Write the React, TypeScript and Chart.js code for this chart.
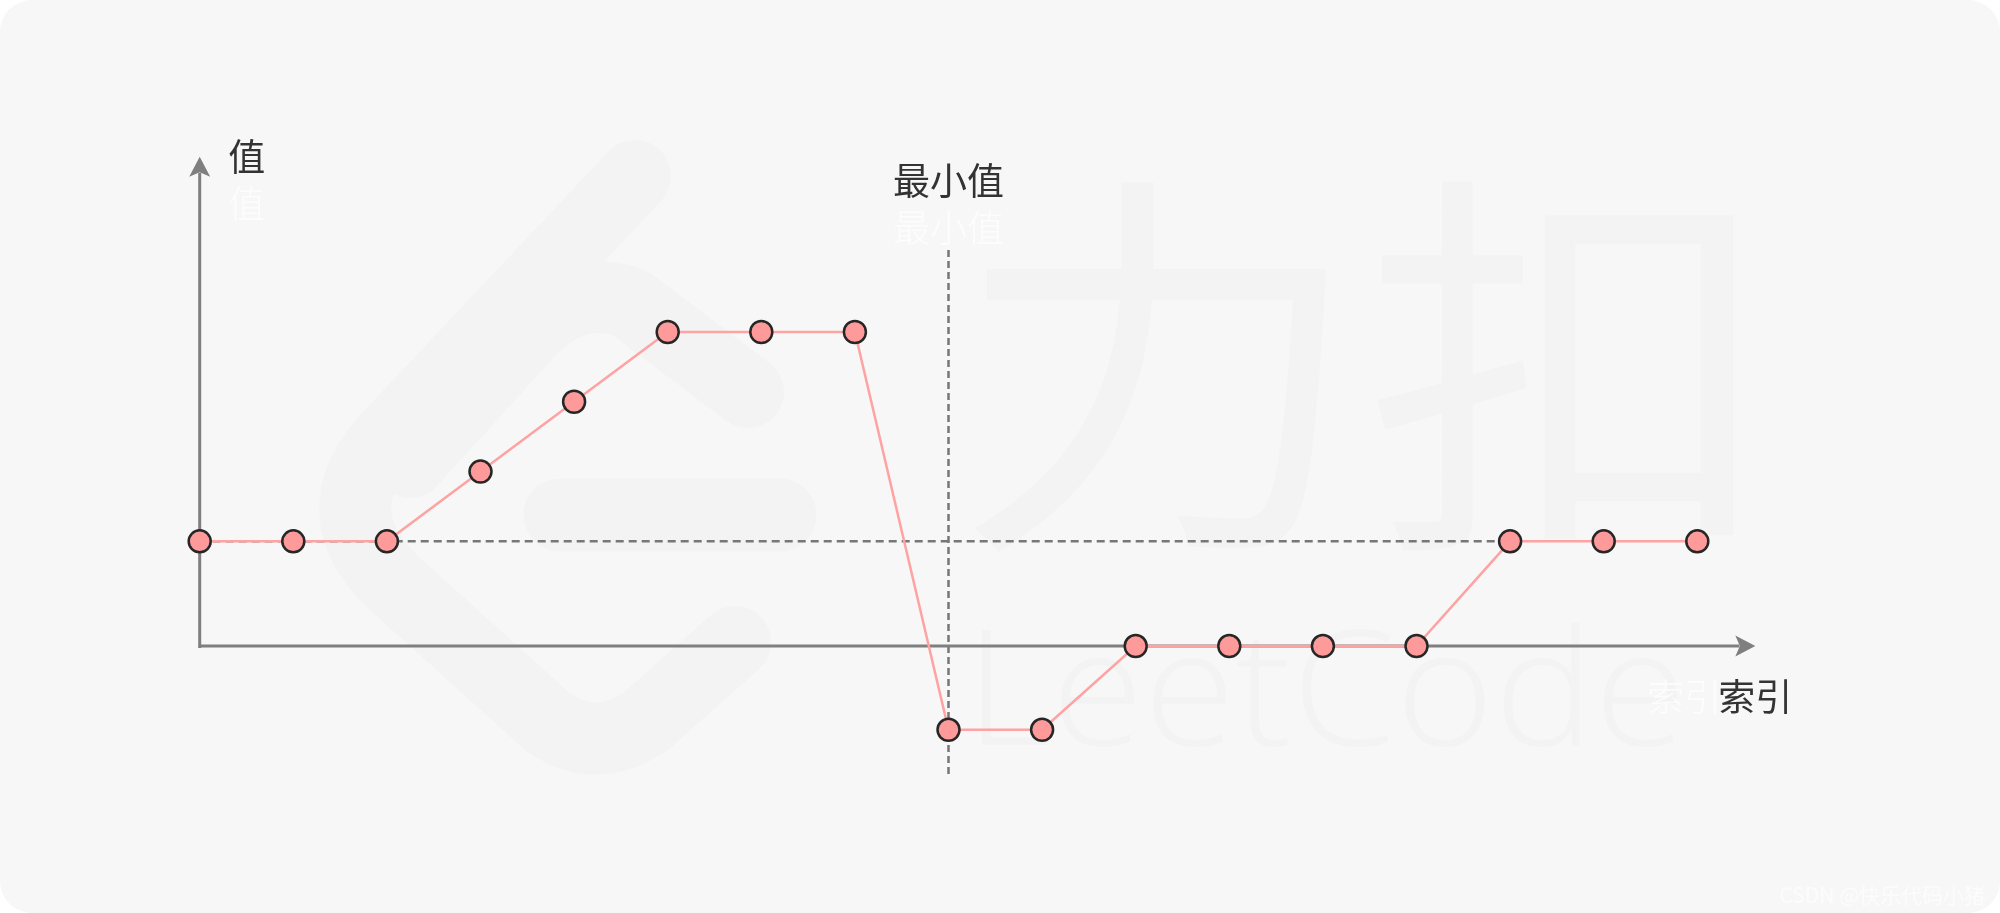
import { useEffect, useRef } from "react";
import { Chart, registerables } from "chart.js";

Chart.register(...registerables);

// index on the x axis and the value at each index
const indices = [0, 1, 2, 3, 4, 5, 6, 7, 8, 9, 10, 11, 12, 13, 14, 15, 16];
const values = [3, 3, 3, 5, 7, 9, 9, 9, -2.4, -2.4, 0, 0, 0, 0, 3, 3, 3];

// dashed guides
const refValue = 3; // horizontal dashed line level
const refEndIndex = 14;
const minIndex = 8; // vertical dashed line ("最小值")
const minLineTop = 11.35;
const minLineBottom = -3.75;

// axis extents (data units)
const xAxisEnd = 16.62;
const yAxisEnd = 14.02;

const yLabel = "值";
const xLabel = "索引";
const minLabel = "最小值";
const credit = "CSDN @快乐代码小猪";

const CJK = '"Noto Sans CJK SC", "Noto Sans", sans-serif';

function fitText(ctx: CanvasRenderingContext2D, text: string, font: string, x0: number, y0: number, x1: number, y1: number) {
  ctx.font = font;
  const m = ctx.measureText(text);
  const w = m.actualBoundingBoxLeft + m.actualBoundingBoxRight;
  const h = m.actualBoundingBoxAscent + m.actualBoundingBoxDescent;
  ctx.save();
  ctx.translate(x0, y0);
  ctx.scale((x1 - x0) / w, (y1 - y0) / h);
  ctx.textAlign = "left";
  ctx.textBaseline = "alphabetic";
  ctx.fillText(text, m.actualBoundingBoxLeft, m.actualBoundingBoxAscent);
  ctx.restore();
}

function arrow(ctx: CanvasRenderingContext2D, tx: number, ty: number, dx: number, dy: number) {
  // dx,dy: unit direction the arrow points to
  const px = -dy;
  const py = dx;
  ctx.beginPath();
  ctx.moveTo(tx, ty);
  ctx.lineTo(tx - dx * 20 + px * 10.5, ty - dy * 20 + py * 10.5);
  ctx.lineTo(tx - dx * 15.5, ty - dy * 15.5);
  ctx.lineTo(tx - dx * 20 - px * 10.5, ty - dy * 20 - py * 10.5);
  ctx.closePath();
  ctx.fill();
}

const decor = {
  id: "decor",
  beforeDraw(chart: any) {
    const { ctx, width, height } = chart;
    ctx.save();
    ctx.fillStyle = "#f7f7f7";
    ctx.beginPath();
    ctx.roundRect(0, 0, width, height, 32);
    ctx.fill();

    // faint LeetCode watermark
    ctx.strokeStyle = "#f3f3f3";
    ctx.fillStyle = "#f3f3f3";
    ctx.lineWidth = 72;
    ctx.lineCap = "round";
    ctx.lineJoin = "round";
    ctx.beginPath();
    ctx.moveTo(635, 176);
    ctx.lineTo(390, 436);
    ctx.quadraticCurveTo(318, 512, 395, 584);
    ctx.lineTo(548, 722);
    ctx.quadraticCurveTo(595, 755, 645, 722);
    ctx.lineTo(735, 642);
    ctx.stroke();
    ctx.beginPath();
    ctx.moveTo(410, 462);
    ctx.lineTo(530, 330);
    ctx.quadraticCurveTo(575, 283, 630, 303);
    ctx.lineTo(748, 392);
    ctx.stroke();
    ctx.lineWidth = 73;
    ctx.beginPath();
    ctx.moveTo(560, 515);
    ctx.lineTo(780, 515);
    ctx.stroke();
    fitText(ctx, "力扣", `400 380px ${CJK}`, 972, 180, 1737, 556);
    fitText(ctx, "LeetCode", '300 170px "Open Sans", sans-serif', 982, 623, 1677, 747);

    ctx.fillStyle = "#fcfcfc";
    ctx.font = `21px ${CJK}`;
    ctx.textAlign = "right";
    ctx.textBaseline = "middle";
    ctx.fillText(credit, 1985, 895);
    ctx.restore();
  },
  beforeDatasetsDraw(chart: any) {
    const { ctx } = chart;
    const xs = chart.scales.x;
    const ys = chart.scales.y;
    const x0 = xs.getPixelForValue(0);
    const y0 = ys.getPixelForValue(0);
    const xEnd = xs.getPixelForValue(xAxisEnd);
    const yEnd = ys.getPixelForValue(yAxisEnd);
    const minX = xs.getPixelForValue(minIndex);
    const lineTop = ys.getPixelForValue(minLineTop);

    ctx.save();
    // dashed guides
    ctx.strokeStyle = "#777777";
    ctx.lineWidth = 2.5;
    ctx.setLineDash([8, 5]);
    ctx.beginPath();
    ctx.moveTo(x0, ys.getPixelForValue(refValue));
    ctx.lineTo(xs.getPixelForValue(refEndIndex), ys.getPixelForValue(refValue));
    ctx.stroke();
    ctx.setLineDash([7, 4]);
    ctx.beginPath();
    ctx.moveTo(minX, lineTop);
    ctx.lineTo(minX, ys.getPixelForValue(minLineBottom));
    ctx.stroke();
    ctx.setLineDash([]);

    // axes
    ctx.strokeStyle = "#7f7f7f";
    ctx.fillStyle = "#7f7f7f";
    ctx.lineWidth = 3;
    ctx.beginPath();
    ctx.moveTo(x0 - 1, y0);
    ctx.lineTo(xEnd - 16, y0);
    ctx.stroke();
    arrow(ctx, xEnd, y0, 1, 0);
    ctx.beginPath();
    ctx.moveTo(x0, y0 + 2);
    ctx.lineTo(x0, yEnd + 16);
    ctx.stroke();
    arrow(ctx, x0, yEnd, 0, -1);

    // labels (faint white echoes first)
    ctx.textAlign = "center";
    ctx.textBaseline = "middle";
    ctx.globalAlpha = 0.75;
    ctx.fillStyle = "#ffffff";
    ctx.font = `300 37px ${CJK}`;
    ctx.fillText(yLabel, x0 + 47, yEnd + 47);
    ctx.fillText(minLabel, minX, lineTop - 22);
    ctx.fillText(xLabel, xEnd - 71, y0 + 50.5);
    ctx.globalAlpha = 1;
    ctx.fillStyle = "#333333";
    ctx.font = `37px ${CJK}`;
    ctx.fillText(yLabel, x0 + 47, yEnd + 0.5);
    ctx.fillText(minLabel, minX, lineTop - 69);
    ctx.fillText(xLabel, xEnd, y0 + 50.5);
    ctx.restore();
  },
};

const App = () => {
  const canvasRef = useRef<HTMLCanvasElement | null>(null);
  const chartRef = useRef<Chart | null>(null);

  useEffect(() => {
    if (!canvasRef.current) return;
    chartRef.current = new Chart(canvasRef.current, {
      type: "line",
      data: {
        datasets: [
          {
            data: indices.map((i, k) => ({ x: i, y: values[k] })),
            borderColor: "#ffa2a2",
            borderWidth: 2.5,
            pointRadius: 11,
            pointBackgroundColor: "#ff9a9a",
            pointBorderColor: "#262626",
            pointBorderWidth: 2.5,
            tension: 0,
            clip: false,
          },
        ],
      },
      options: {
        animation: false,
        responsive: false,
        devicePixelRatio: 1,
        events: [],
        layout: { padding: { left: 199.7, right: 302.7, top: 227.3, bottom: 127.4 } },
        plugins: { legend: { display: false }, tooltip: { enabled: false } },
        scales: {
          x: { type: "linear", display: false, min: 0, max: 16 },
          y: { display: false, min: -4, max: 12 },
        },
      },
      plugins: [decor],
    } as any);
    return () => {
      chartRef.current?.destroy();
      chartRef.current = null;
    };
  }, []);

  return (
    <div style={{ position: "absolute", left: 0, top: 0, width: 2000, height: 913, background: "#fff" }}>
      <canvas ref={canvasRef} width={2000} height={913} style={{ display: "block" }} />
    </div>
  );
};

export default App;
